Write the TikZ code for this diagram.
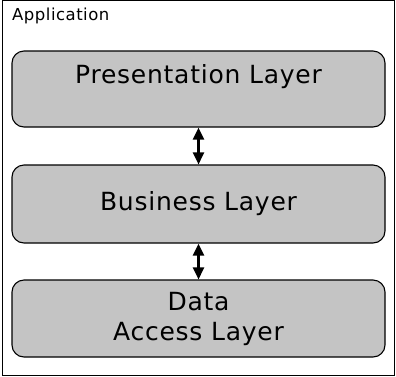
\documentclass[tikz,border=0pt]{standalone}
\usepackage{fontspec}
\setmainfont{DejaVu Sans}
\usetikzlibrary{arrows.meta}
\definecolor{layergray}{RGB}{196,196,196}
\tikzset{>={Triangle[length=12pt,width=11pt]}}
\tikzset{%
    layer/.style={%
        draw, line width=1.1pt, fill=layergray, rounded corners=12pt,
        minimum width=373pt, align=center,
        font=\fontsize{25}{30}\selectfont\addfontfeature{LetterSpace=3}
    }
}

\begin{document}
\begin{tikzpicture}[x=1pt,y=-1pt]
\useasboundingbox (0,0) rectangle (396,376);
\draw[line width=1pt] (2,0.5) rectangle (394.5,375.5);
\node[anchor=base west,inner sep=0pt,font=\fontsize{16.5}{18}\selectfont\addfontfeature{LetterSpace=3}] (app) at (12,20.5) {Application};

% the top label sits high in its box
\node[layer,minimum height=76pt,text height=19pt,text depth=31pt] (pres) at (198.5,89) {Presentation Layer};
\node[layer,minimum height=78pt] (bus) at (198.5,204) {Business Layer};
\node[layer,minimum height=77pt] (data) at (198.5,318.5) {Data\\Access Layer};

\draw[<->,line width=2.5pt] (pres) -- (bus);
\draw[<->,line width=2.5pt] (bus) -- (data);
\end{tikzpicture}
\end{document}
